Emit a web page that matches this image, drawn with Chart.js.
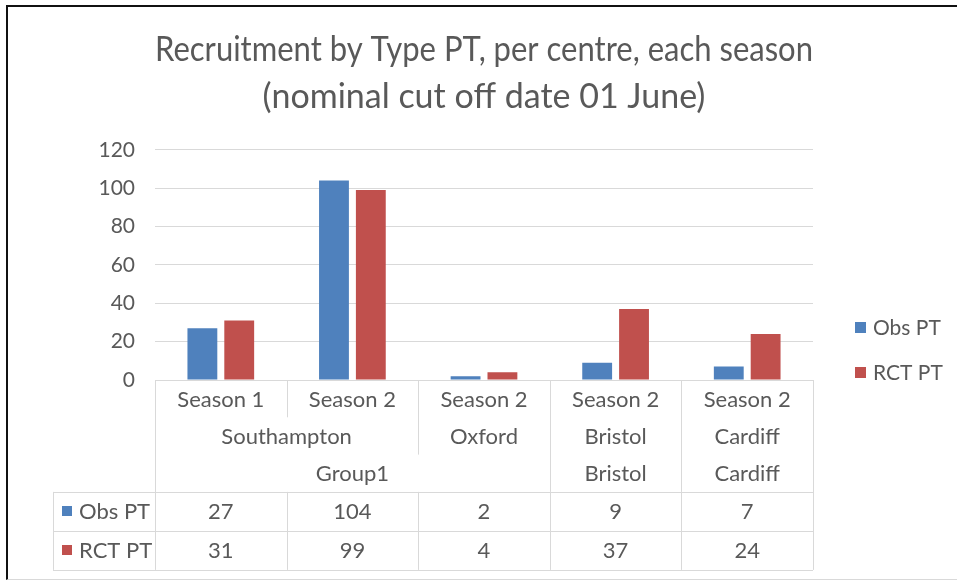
<!DOCTYPE html>
<html>
<head>
<meta charset="utf-8">
<script src="https://cdn.jsdelivr.net/npm/chart.js@4.4.1/dist/chart.umd.min.js"></script>
<style>
  html, body { margin: 0; padding: 0; background: #fff; }
  #wrap { position: relative; width: 957px; height: 580px; overflow: hidden; }
  #frame { position: absolute; left: 6px; top: 5px; width: 1000px; height: 572px;
           border-left: 2px solid #111; border-top: 2px solid #111; border-bottom: 1px solid #d9d9d9;
           pointer-events: none; }
  canvas { position: absolute; left: 0; top: 0; }
</style>
</head>
<body>
<div id="wrap">
  <canvas id="chart" width="957" height="580"></canvas>
  <div id="frame"></div>
</div>
<script>
// category levels (bottom axis, read top to bottom)
const seasons = ["Season 1", "Season 2", "Season 2", "Season 2", "Season 2"];
const centres = ["Southampton", "Southampton", "Oxford", "Bristol", "Cardiff"];
const groups = ["Group1", "Group1", "Group1", "Bristol", "Cardiff"];

// series
const seriesNames = ["Obs PT", "RCT PT"];
const obsPT = [27, 104, 2, 9, 7];
const rctPT = [31, 99, 4, 37, 24];

const yTicks = [0, 20, 40, 60, 80, 100, 120];

const textColor = "#595959";
const lineColor = "#d9d9d9";
const fontFamily = "Lato, 'Open Sans', sans-serif";

// multi-level axis + data table under the plot
const tablePlugin = {
    id: "dataTable",
    afterDraw(chart) {
        const ctx = chart.ctx;
        const xs = chart.scales.x;
        const area = chart.chartArea;
        const n = seasons.length;
        const step = (area.right - area.left) / n;
        const levels = [seasons, centres, groups];
        const labelRowH = 37.3;
        const dataRowH = 39;
        const top = area.bottom;
        const tableTop = top + levels.length * labelRowH;
        const tableBottom = tableTop + chart.data.datasets.length * dataRowH;
        const keyLeft = 53;
        const leftOf = i => xs.getPixelForValue(i) - step / 2;
        const key = (r, i) => levels.slice(r).map(a => a[i]).join("|");
        const px = v => Math.round(v) + 0.5;

        ctx.save();
        ctx.strokeStyle = lineColor;
        ctx.lineWidth = 1;
        const line = (x1, y1, x2, y2) => {
            ctx.beginPath();
            ctx.moveTo(x1, y1);
            ctx.lineTo(x2, y2);
            ctx.stroke();
        };

        // horizontal lines
        line(area.left, px(top), area.right, px(top));
        line(keyLeft, px(tableTop), area.right, px(tableTop));
        for (let d = 1; d <= chart.data.datasets.length; d++) {
            line(keyLeft, px(tableTop + d * dataRowH), area.right, px(tableTop + d * dataRowH));
        }
        // vertical lines
        line(px(keyLeft), tableTop, px(keyLeft), tableBottom);
        line(px(area.left), top, px(area.left), tableBottom);
        line(px(area.right), top, px(area.right), tableBottom);
        for (let i = 0; i < n - 1; i++) {
            let depth = 0;
            for (let r = 0; r < levels.length; r++) {
                if (key(r, i) !== key(r, i + 1)) depth = r + 1;
            }
            const bx = px(leftOf(i + 1));
            line(bx, top, bx, top + depth * labelRowH);
            line(bx, tableTop, bx, tableBottom);
        }

        // category labels
        ctx.fillStyle = textColor;
        ctx.font = "22px " + fontFamily;
        ctx.textAlign = "center";
        ctx.textBaseline = "middle";
        levels.forEach((arr, r) => {
            let i = 0;
            while (i < n) {
                let j = i;
                while (j + 1 < n && key(r, j + 1) === key(r, i)) j++;
                const cx = (leftOf(i) + leftOf(j) + step) / 2;
                ctx.fillText(arr[i], cx, top + r * labelRowH + labelRowH / 2 + 1);
                i = j + 1;
            }
        });

        // data rows
        chart.data.datasets.forEach((ds, d) => {
            const cy = tableTop + d * dataRowH + dataRowH / 2 + 1;
            ctx.fillStyle = ds.backgroundColor;
            ctx.fillRect(62, Math.round(cy - 6), 10, 10);
            ctx.fillStyle = textColor;
            ctx.textAlign = "left";
            ctx.fillText(ds.label, 79, cy);
            ctx.textAlign = "center";
            ds.data.forEach((v, i) => ctx.fillText(String(v), xs.getPixelForValue(i), cy));
        });

        // legend on the right
        ctx.font = "21px " + fontFamily;
        chart.data.datasets.forEach((ds, d) => {
            const cy = 328 + d * 45;
            ctx.fillStyle = ds.backgroundColor;
            ctx.fillRect(855, Math.round(cy - 6), 11, 11);
            ctx.fillStyle = textColor;
            ctx.textAlign = "left";
            ctx.fillText(ds.label, 873, cy);
        });
        ctx.restore();
    }
};

new Chart(document.getElementById("chart"), {
    type: "bar",
    data: {
        labels: seasons,
        datasets: [
            { label: seriesNames[0], data: obsPT, backgroundColor: "#4f81bd" },
            { label: seriesNames[1], data: rctPT, backgroundColor: "#c0504d" }
        ]
    },
    options: {
        responsive: false,
        animation: false,
        categoryPercentage: 0.56,
        barPercentage: 0.81,
        layout: { padding: { left: 0, right: 144, top: 20, bottom: 200 } },
        plugins: {
            legend: { display: false },
            tooltip: { enabled: false },
            title: {
                display: true,
                fullSize: false,
                text: ["Recruitment by Type PT, per centre, each season", "(nominal cut off date 01 June)"],
                color: textColor,
                font: { family: fontFamily, size: 34, weight: "normal", lineHeight: 1.38 },
                padding: { top: 7, bottom: 29 }
            }
        },
        scales: {
            x: { display: false },
            y: {
                min: yTicks[0],
                max: yTicks[yTicks.length - 1],
                afterFit(scale) { scale.width = 155; },
                border: { display: false },
                grid: { color: lineColor, drawTicks: false },
                ticks: {
                    stepSize: yTicks[1] - yTicks[0],
                    padding: 20,
                    color: textColor,
                    font: { family: fontFamily, size: 21 }
                }
            }
        }
    },
    plugins: [tablePlugin]
});
</script>
</body>
</html>
